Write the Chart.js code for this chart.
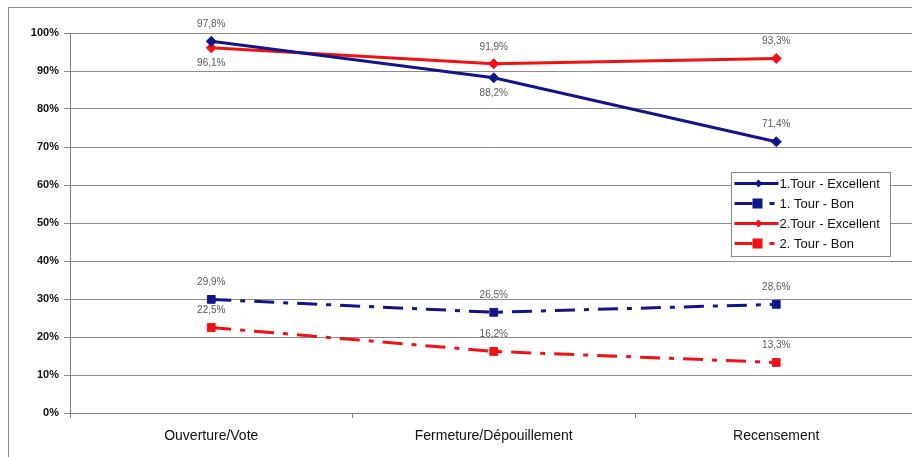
<!DOCTYPE html>
<html><head><meta charset="utf-8">
<script src="https://cdn.jsdelivr.net/npm/chart.js@4/dist/chart.umd.min.js"></script>
<style>
html,body{margin:0;padding:0;background:#fff;overflow:hidden;}
#wrap{position:relative;width:930px;height:457px;}
canvas{display:block;width:930px;height:457px;}
</style></head>
<body><div id="wrap"><canvas id="c" width="930" height="457"></canvas></div>
<script>
const categories = ["Ouverture/Vote", "Fermeture/Dépouillement", "Recensement"];
const tour1Excellent = [97.8, 88.2, 71.4];
const tour1Bon = [29.9, 26.5, 28.6];
const tour2Excellent = [96.1, 91.9, 93.3];
const tour2Bon = [22.5, 16.2, 13.3];
const seriesNames = ["1.Tour - Excellent", "1. Tour - Bon", "2.Tour - Excellent", "2. Tour - Bon"];
// label placement: +1 above, -1 below
const labelSide = [[1,-1,1],[1,1,1],[-1,1,1],[1,1,1]];

const NAVY = '#10168a', RED = '#f01212';
const dashBon = [20, 9, 5, 9];

const labelPlugin = {
  id: 'labels',
  afterDatasetsDraw(chart) {
    const ctx = chart.ctx;
    ctx.save();
    ctx.font = '10px "Liberation Sans", Arial, sans-serif';
    ctx.fillStyle = '#5a5a5a';
    ctx.textAlign = 'center';
    ctx.textBaseline = 'middle';
    chart.data.datasets.forEach((ds, i) => {
      const meta = chart.getDatasetMeta(i);
      meta.data.forEach((pt, j) => {
        const side = labelSide[i][j];
        const y = side > 0 ? pt.y - 17 : pt.y + 15;
        ctx.fillText(ds.data[j].toFixed(1).replace('.', ',') + '%', pt.x, y);
      });
    });
    ctx.restore();
  }
};

const frameLegendPlugin = {
  id: 'frameLegend',
  afterDraw(chart) {
    const ctx = chart.ctx;
    ctx.save();
    // outer frame
    ctx.strokeStyle = '#8a8a8a';
    ctx.lineWidth = 1;
    ctx.strokeRect(8.5, 7.5, 940, 460);
    // legend box
    const bx = 731.5, by = 172.5, bw = 159, bh = 84;
    ctx.fillStyle = '#fff';
    ctx.fillRect(bx, by, bw, bh);
    ctx.strokeStyle = '#888';
    ctx.strokeRect(bx, by, bw, bh);
    const cols = [NAVY, NAVY, RED, RED];
    ctx.font = '13px "Liberation Sans", Arial, sans-serif';
    ctx.textBaseline = 'middle';
    ctx.textAlign = 'left';
    seriesNames.forEach((name, i) => {
      const y = by + 11 + i * 20;
      const c = cols[i];
      ctx.strokeStyle = c; ctx.fillStyle = c;
      ctx.lineWidth = 3;
      ctx.setLineDash([]);
      if (i % 2 === 0) {
        ctx.beginPath(); ctx.moveTo(bx + 3, y); ctx.lineTo(bx + 47, y); ctx.stroke();
        ctx.beginPath();
        ctx.moveTo(bx + 27, y - 4); ctx.lineTo(bx + 31, y); ctx.lineTo(bx + 27, y + 4); ctx.lineTo(bx + 23, y);
        ctx.closePath(); ctx.fill();
      } else {
        ctx.beginPath(); ctx.moveTo(bx + 3, y); ctx.lineTo(bx + 21, y); ctx.stroke();
        ctx.fillRect(bx + 21, y - 5, 10, 10);
        ctx.beginPath(); ctx.moveTo(bx + 38, y); ctx.lineTo(bx + 43, y); ctx.stroke();
      }
      ctx.fillStyle = '#111';
      ctx.fillText(name, bx + 48, y + 1);
    });
    ctx.restore();
  }
};

new Chart(document.getElementById('c'), {
  type: 'line',
  data: {
    labels: categories,
    datasets: [
      { label: seriesNames[0], data: tour1Excellent, borderColor: NAVY, backgroundColor: NAVY, borderWidth: 3,
        pointStyle: 'rectRot', pointRadius: 5, pointBorderWidth: 1, pointBorderColor: NAVY },
      { label: seriesNames[1], data: tour1Bon, borderColor: NAVY, backgroundColor: NAVY, borderWidth: 3, borderDash: dashBon,
        pointStyle: 'rect', pointRadius: 5.5, pointBorderWidth: 1, pointBorderColor: NAVY },
      { label: seriesNames[2], data: tour2Excellent, borderColor: RED, backgroundColor: RED, borderWidth: 3,
        pointStyle: 'rectRot', pointRadius: 5, pointBorderWidth: 1, pointBorderColor: RED },
      { label: seriesNames[3], data: tour2Bon, borderColor: RED, backgroundColor: RED, borderWidth: 3, borderDash: dashBon,
        pointStyle: 'rect', pointRadius: 5.5, pointBorderWidth: 1, pointBorderColor: RED }
    ]
  },
  options: {
    responsive: false,
    animation: false,
    layout: { padding: { left: 0, right: 12.5, top: 33, bottom: 0 } },
    plugins: { legend: { display: false }, title: { display: false }, tooltip: { enabled: false } },
    scales: {
      x: {
        offset: true,
        grid: { offset: true, drawOnChartArea: false, drawTicks: true, tickLength: 5, color: '#808080' },
        border: { color: '#808080' },
        ticks: { color: '#111', padding: 10, font: { family: '"Liberation Sans", Arial, sans-serif', size: 14 } },
        afterFit(s) { s.height = 44; }
      },
      y: {
        min: 0, max: 100,
        ticks: { stepSize: 10, color: '#111', padding: 5, callback: v => v + '%',
                 font: { family: '"Liberation Sans", Arial, sans-serif', size: 11, weight: 'bold' } },
        grid: { color: '#8c8c8c', tickLength: 6, drawTicks: true },
        border: { color: '#808080' },
        afterFit(s) { s.width = 70; }
      }
    }
  },
  plugins: [labelPlugin, frameLegendPlugin]
});
</script></body></html>
